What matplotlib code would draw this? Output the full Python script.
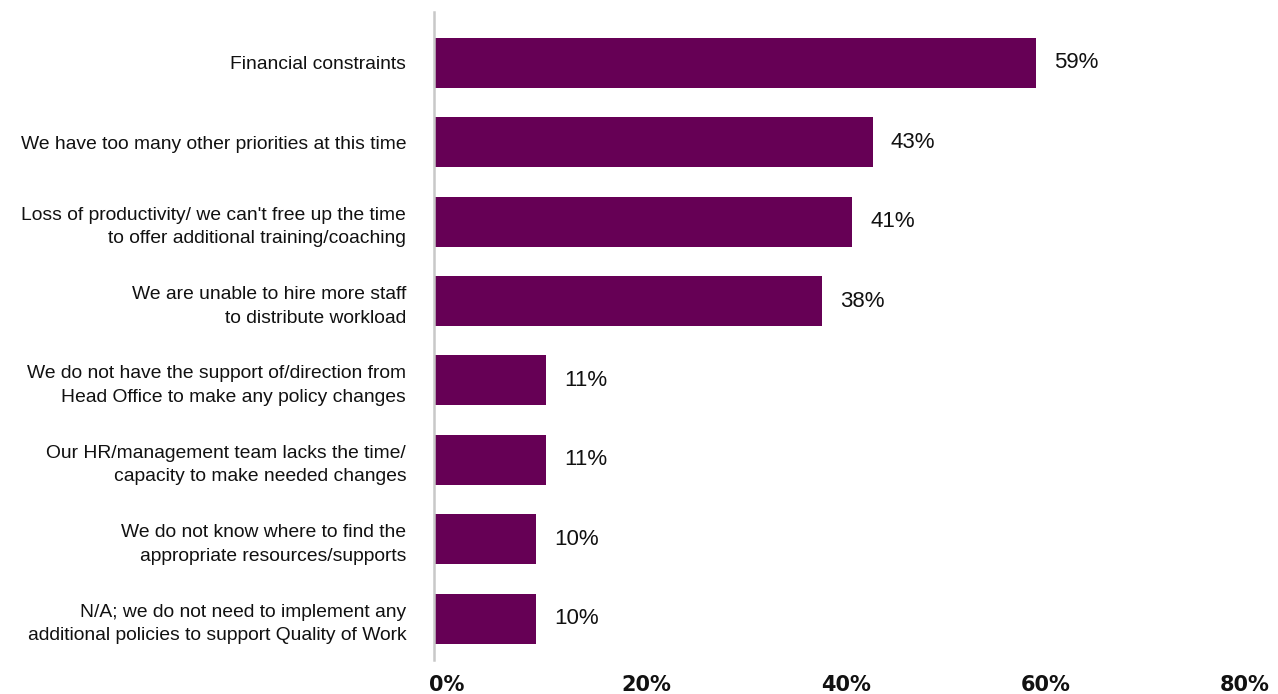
import matplotlib
matplotlib.use("Agg")
import matplotlib.pyplot as plt
from matplotlib.transforms import ScaledTranslation

categories = [
    "Financial constraints",
    "We have too many other priorities at this time",
    "Loss of productivity/ we can't free up the time\nto offer additional training/coaching",
    "We are unable to hire more staff\nto distribute workload",
    "We do not have the support of/direction from\nHead Office to make any policy changes",
    "Our HR/management team lacks the time/\ncapacity to make needed changes",
    "We do not know where to find the\nappropriate resources/supports",
    "N/A; we do not need to implement any\nadditional policies to support Quality of Work",
]
values = [59, 43, 41, 38, 11, 11, 10, 10]
tick_values = [0, 20, 40, 60, 80]
tick_labels = ["0%", "20%", "40%", "60%", "80%"]

bar_color = "#660055"
text_color = "#111111"

fig = plt.figure(figsize=(12.78, 6.94), dpi=100)
ax = fig.add_axes([434 / 1278, 1 - 660 / 694, (1250 - 434) / 1278, (660 - 12) / 694])

y = list(range(len(categories)))
ax.barh(y, values, height=0.63, color=bar_color)

for yi, v in zip(y, values):
    ax.annotate(f"{v}%", xy=(v, yi), xytext=(13, 0), textcoords="offset points",
                va="center", ha="left", fontsize=16, family="Liberation Sans",
                color=text_color)

ax.set_xlim(0, 80)
ax.set_ylim(7.52, -0.64)
ax.set_yticks(y)
ax.set_yticklabels(categories, fontsize=13.9, family="Liberation Sans",
                   color=text_color, linespacing=1.5)
ax.set_xticks(tick_values)
ax.set_xticklabels(tick_labels, fontsize=15,
                   family=["DejaVu Sans Condensed", "Liberation Sans Narrow", "DejaVu Sans"],
                   fontweight="bold", color=text_color)
ax.tick_params(axis="y", length=0, pad=20)
ax.tick_params(axis="x", length=0, pad=11)

# nudge the percentage tick labels slightly so they sit inside the canvas
for i, lab in enumerate(ax.get_xticklabels()):
    dx = (13 - 4.5 * i) / 100
    lab.set_transform(lab.get_transform() + ScaledTranslation(dx, 0, fig.dpi_scale_trans))

for s in ["top", "right", "bottom"]:
    ax.spines[s].set_visible(False)
ax.spines["left"].set_color("#c8c8c8")
ax.spines["left"].set_linewidth(1.8)

fig.savefig("out.png", dpi=100)
